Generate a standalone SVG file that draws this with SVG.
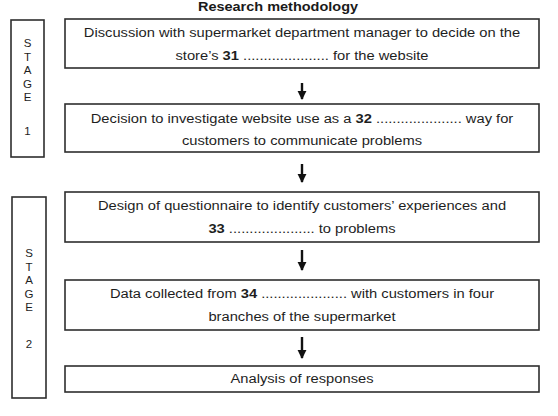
<svg xmlns="http://www.w3.org/2000/svg" width="558" height="416" viewBox="0 0 558 416">
<style>
.bg{fill:#ffffff}
.box{fill:#ffffff;stroke:#2e2e2e;stroke-width:1.6}
.t{font-family:"Liberation Sans",Arial,sans-serif;font-size:13.5px;fill:#1e1e1e;text-anchor:middle}
.b{font-weight:bold}
.title{font-family:"Liberation Sans",Arial,sans-serif;font-size:12.5px;font-weight:bold;fill:#1a1a1a;text-anchor:middle}
.st{font-family:"Liberation Sans",Arial,sans-serif;font-size:11.5px;fill:#1e1e1e;text-anchor:middle}
.conn{stroke:#111;stroke-width:2.4;fill:none;marker-end:url(#ah)}
</style>
<defs>
<marker id="ah" viewBox="0 0 10 10" refX="9" refY="5" markerWidth="3.8" markerHeight="3.8" markerUnits="strokeWidth" orient="auto">
<path d="M0,0 L10,5 L0,10 z" fill="#111"/>
</marker>
</defs>
<rect class="bg" x="0" y="0" width="558" height="416"/>
<g id="title">
<text class="title" x="0" y="11" transform="translate(278,0) scale(1.16,1)">Research methodology</text>
</g>
<g id="stage1">
<rect class="box" x="11" y="20" width="33" height="137"/>
<text class="st" x="27.5" y="47">S</text>
<text class="st" x="27.5" y="60.5">T</text>
<text class="st" x="27.5" y="74">A</text>
<text class="st" x="27.5" y="87.5">G</text>
<text class="st" x="27.5" y="101">E</text>
<text class="st" x="27.5" y="135">1</text>
</g>
<g id="stage2">
<rect class="box" x="12" y="197" width="34" height="201"/>
<text class="st" x="29" y="257">S</text>
<text class="st" x="29" y="270.5">T</text>
<text class="st" x="29" y="284">A</text>
<text class="st" x="29" y="297.5">G</text>
<text class="st" x="29" y="311">E</text>
<text class="st" x="29" y="348">2</text>
</g>
<g id="node1">
<rect class="box" x="65" y="19" width="474" height="49"/>
<text class="t" x="0" y="37" transform="translate(302,0) scale(1.09,1)">Discussion with supermarket department manager to decide on the</text>
<text class="t" x="0" y="60" transform="translate(302,0) scale(1.09,1)">store’s <tspan class="b">31</tspan> ..................... for the website</text>
</g>
<g id="node2">
<rect class="box" x="65" y="104" width="474" height="48"/>
<text class="t" x="0" y="123" transform="translate(302,0) scale(1.09,1)">Decision to investigate website use as a <tspan class="b">32</tspan> ..................... way for</text>
<text class="t" x="0" y="145" transform="translate(302,0) scale(1.09,1)">customers to communicate problems</text>
</g>
<g id="node3">
<rect class="box" x="65" y="192" width="474" height="50"/>
<text class="t" x="0" y="210" transform="translate(302,0) scale(1.09,1)">Design of questionnaire to identify customers’ experiences and</text>
<text class="t" x="0" y="233" transform="translate(302,0) scale(1.09,1)"><tspan class="b">33</tspan> ..................... to problems</text>
</g>
<g id="node4">
<rect class="box" x="65" y="280" width="474" height="50"/>
<text class="t" x="0" y="298" transform="translate(302,0) scale(1.09,1)">Data collected from <tspan class="b">34</tspan> ..................... with customers in four</text>
<text class="t" x="0" y="321" transform="translate(302,0) scale(1.09,1)">branches of the supermarket</text>
</g>
<g id="node5">
<rect class="box" x="65" y="366" width="474" height="26"/>
<text class="t" x="0" y="383" transform="translate(302,0) scale(1.09,1)">Analysis of responses</text>
</g>
<g id="connectors">
<path class="conn" d="M302,83 L302,99"/>
<path class="conn" d="M302,164 L302,182"/>
<path class="conn" d="M302,250 L302,270"/>
<path class="conn" d="M302,337 L302,358"/>
</g>
</svg>
